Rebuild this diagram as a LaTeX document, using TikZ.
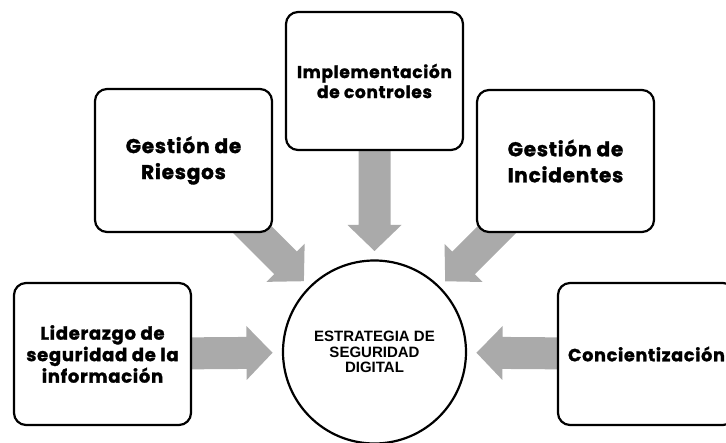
\documentclass[tikz,border=0pt]{standalone}
\usepackage{fontspec}
\setmainfont{Poppins}[BoldFeatures={FakeBold=1.5,LetterSpace=4}]
\newfontfamily\circfont{Liberation Sans}
\usetikzlibrary{calc}
\pgfdeclarelayer{bg}
\pgfsetlayers{bg,main}
\definecolor{arrowgray}{RGB}{170,170,170}
\tikzset{
  box/.style={draw=black, line width=2.2pt, rounded corners=12pt, fill=white,
    inner sep=0pt, align=center, minimum width=177pt, minimum height=142pt},
  hub/.style={circle, draw=black, line width=2.2pt, fill=white, minimum size=183pt,
    inner sep=0pt, align=center, font=\circfont\bfseries\fontsize{15}{15.5}\selectfont},
  blockarrow/.style={fill=arrowgray, draw=none}
}
\newcommand{\fatarrow}[2]{%
  \coordinate (fa-s) at (#1);
  \coordinate (fa-t) at (#2);
  \coordinate (fa-h) at ($(fa-t)!26pt!(fa-s)$);
  \fill[blockarrow] ($(fa-s)!16pt!90:(fa-t)$) -- ($(fa-h)!16pt!90:(fa-t)$)
    -- ($(fa-h)!27pt!90:(fa-t)$) -- (fa-t) -- ($(fa-h)!27pt!-90:(fa-t)$)
    -- ($(fa-h)!16pt!-90:(fa-t)$) -- ($(fa-s)!16pt!-90:(fa-t)$) -- cycle;
}
\begin{document}
\begin{tikzpicture}[x=1pt, y=-1pt]
  \useasboundingbox (0,0) rectangle (726,443);
  \clip (0,0) rectangle (726,443);
  \node[hub] (hub) at (374.5,352) {ESTRATEGIA DE\\SEGURIDAD\\DIGITAL};
  \node[box, font=\bfseries\fontsize{18}{21.5}\selectfont] (lid) at (102.5,354)
    {Liderazgo de\\seguridad de la\\información};
  \node[box, font=\bfseries\fontsize{20}{26}\selectfont, minimum height=143pt] (rie) at (183.5,160.5)
    {Gestión de\\Riesgos};
  \node[box, font=\bfseries\fontsize{17}{20}\selectfont, minimum height=138pt] (imp) at (374.5,81)
    {Implementación\\de controles};
  \node[box, font=\bfseries\fontsize{20}{26}\selectfont] (inc) at (565.5,161)
    {Gestión de\\Incidentes};
  \node[box, font=\bfseries\fontsize{17.6}{22}\selectfont] (con) at (646.5,354)
    {Concientización};
  \coordinate (tip-lid) at ($(hub)!102pt!(lid)$);
  \coordinate (tip-rie) at ($(hub)!100pt!(rie)$);
  \coordinate (tip-imp) at ($(hub)!101pt!(imp)$);
  \coordinate (tip-inc) at ($(hub)!100pt!(inc)$);
  \coordinate (tip-con) at ($(hub)!102pt!(con)$);
  \begin{pgfonlayer}{bg}
    \fatarrow{lid}{tip-lid}
    \fatarrow{rie}{tip-rie}
    \fatarrow{imp}{tip-imp}
    \fatarrow{inc}{tip-inc}
    \fatarrow{con}{tip-con}
  \end{pgfonlayer}
\end{tikzpicture}
\end{document}
